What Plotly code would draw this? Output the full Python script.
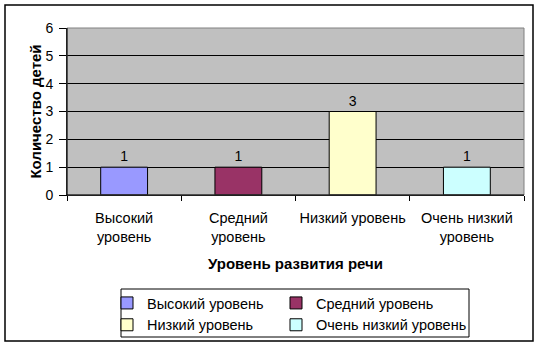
import plotly.graph_objects as go

categories = ["Высокий<br>уровень", "Средний<br>уровень", "Низкий уровень", "Очень низкий<br>уровень"]
series_names = ["Высокий уровень", "Средний уровень", "Низкий уровень", "Очень низкий уровень"]
values = [1, 1, 3, 1]
colors = ["#9999FF", "#993366", "#FFFFCC", "#CCFFFF"]
legend_slots = ["legend", "legend2", "legend", "legend2"]
y_title = "Количество детей"
x_title = "Уровень развития речи"

FONT = "Liberation Sans, Arial, sans-serif"

# plot-area pixel geometry (540x347 canvas)
L, R, T, B = 67, 524, 28, 195
W, H = R - L, B - T


def px(x):
    return (x - L) / W


def py(y):
    return (B - y) / H


fig = go.Figure()
for cat, name, val, col, lg in zip(categories, series_names, values, colors, legend_slots):
    fig.add_trace(go.Bar(
        x=[cat], y=[val], name=name, legend=lg,
        marker=dict(color=col, line=dict(color="black", width=1)),
        width=0.41,
        text=[str(val)], textposition="outside", cliponaxis=False,
        textfont=dict(family=FONT, size=14, color="black"),
    ))

leg_common = dict(
    orientation="v", xanchor="left", yanchor="top",
    bgcolor="rgba(0,0,0,0)", borderwidth=0,
    font=dict(family=FONT, size=14.5, color="black"),
    traceorder="normal",
)

fig.update_layout(
    width=540, height=347,
    margin=dict(l=L, r=540 - R, t=T, b=347 - B, autoexpand=False),
    paper_bgcolor="white", plot_bgcolor="#C0C0C0",
    barmode="overlay",
    font=dict(family=FONT, size=14, color="black"),
    showlegend=True,
    legend=dict(x=px(107), y=py(287), **leg_common),
    legend2=dict(x=px(276), y=py(287), **leg_common),
    xaxis=dict(
        categoryorder="array", categoryarray=categories,
        showline=True, linecolor="black", linewidth=1,
        ticks="outside", tickson="boundaries", ticklen=5, tickcolor="black",
        ticklabelstandoff=10, tickangle=0,
        tickfont=dict(family=FONT, size=14.5, color="black"),
        title=dict(text="<b>" + x_title + "</b>", standoff=14,
                   font=dict(family=FONT, size=15, color="black")),
        showgrid=False, automargin=False,
    ),
    yaxis=dict(
        range=[0, 6], dtick=1,
        showline=True, linecolor="black", linewidth=1,
        ticks="outside", ticklen=7, tickcolor="black",
        ticklabelstandoff=3,
        tickfont=dict(family=FONT, size=14, color="black"),
        showgrid=True, gridcolor="black", gridwidth=1,
        zeroline=False,
        title=dict(text="<b>" + y_title + "</b>", standoff=0,
                   font=dict(family=FONT, size=15, color="black")),
        automargin=False,
    ),
    shapes=[
        dict(type="rect", xref="paper", yref="paper", x0=0, x1=1, y0=0, y1=1,
             line=dict(color="#808080", width=1), fillcolor="rgba(0,0,0,0)", layer="above"),
        dict(type="line", xref="paper", yref="paper", x0=0, x1=1, y0=0, y1=0,
             line=dict(color="black", width=1), layer="above"),
        dict(type="line", xref="paper", yref="paper", x0=0, x1=0, y0=0, y1=1,
             line=dict(color="black", width=1), layer="above"),
        # legend border
        dict(type="rect", xref="paper", yref="paper",
             x0=px(121), x1=px(469), y0=py(337), y1=py(289),
             line=dict(color="black", width=1), fillcolor="rgba(0,0,0,0)", layer="above"),
        # outer chart frame
        dict(type="rect", xref="paper", yref="paper",
             x0=px(5), x1=px(533), y0=py(341), y1=py(5),
             line=dict(color="black", width=1.5), fillcolor="rgba(0,0,0,0)", layer="above"),
    ],
)

fig.write_html("out.html")
